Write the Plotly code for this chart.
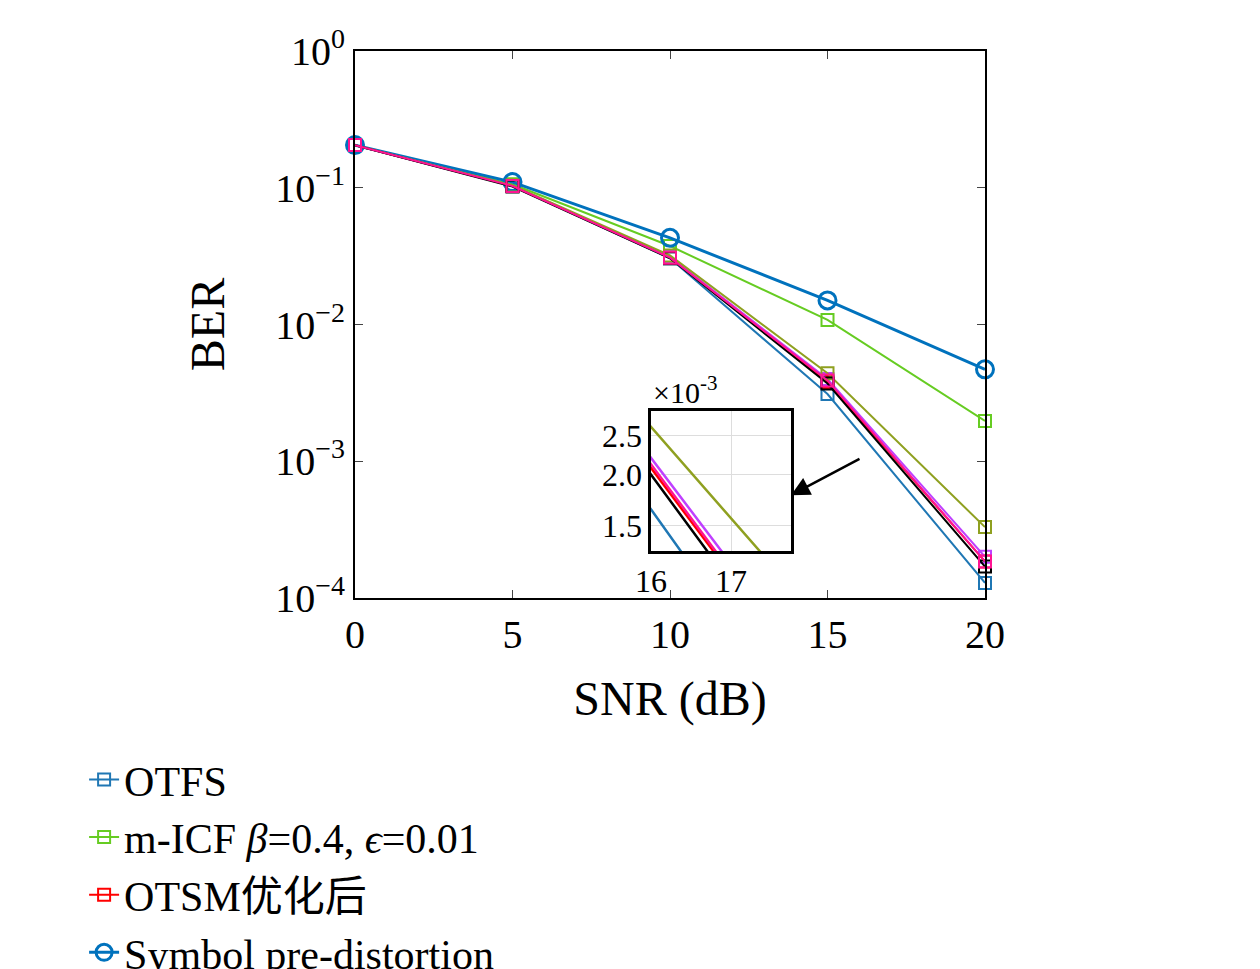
import plotly.graph_objects as go

snr = [0, 5, 10, 15, 20]
names = ["OTFS", "m-ICF <i>β</i>=0.4, <i>ϵ</i>=0.01", "OTSM优化后", "Symbol pre-distortion",
         "DCT-based OTFS优化后", "本文", "OTFS优化后", "SLM"]
colors = ["#1f77b4", "#66cc22", "#ff0000", "#0072bd", "#bf40ff", "#8fa020", "#000000", "#ff1493"]
ber = [
    [0.205, 0.103, 0.0305, 0.0031, 1.29e-4],
    [0.205, 0.106, 0.0375, 0.0108, 0.00197],
    [0.205, 0.103, 0.0310, 0.0038, 1.85e-4],
    [0.205, 0.110, 0.0430, 0.0150, 0.0047],
    [0.205, 0.103, 0.0312, 0.0040, 2.0e-4],
    [0.205, 0.104, 0.0320, 0.0044, 3.3e-4],
    [0.205, 0.102, 0.0305, 0.0037, 1.7e-4],
    [0.205, 0.103, 0.0308, 0.0039, 1.85e-4],
]
ytick_vals = [1, 0.1, 0.01, 0.001, 0.0001]
ytick_text = ["10<sup>0</sup>", "10<sup>−1</sup>", "10<sup>−2</sup>", "10<sup>−3</sup>", "10<sup>−4</sup>"]
inset_vals = [1.5e-3, 2.0e-3, 2.5e-3]
inset_text = ["1.5", "2.0", "2.5"]

F = "Liberation Serif, Noto Sans CJK SC"
fig = go.Figure()
for i, n in enumerate(names):
    circ = n.startswith("Symbol")
    fig.add_trace(go.Scatter(
        x=snr, y=ber[i], name=n, mode="lines+markers", cliponaxis=False,
        line=dict(color=colors[i], width=3 if circ else 2),
        marker=dict(symbol="circle-open" if circ else "square-open",
                    size=17 if circ else 12, color=colors[i],
                    line=dict(width=3 if circ else 2, color=colors[i]))))
for i, n in enumerate(names):
    fig.add_trace(go.Scatter(
        x=snr, y=ber[i], mode="lines", showlegend=False, xaxis="x2", yaxis="y2",
        line=dict(color=colors[i], width=2.5)))

fig.update_layout(
    width=1260, height=969, paper_bgcolor="white", plot_bgcolor="white",
    margin=dict(l=347, r=283, t=43, b=379, autoexpand=False),
    font=dict(family=F, size=40, color="black"),
    xaxis=dict(range=[0, 20], tickvals=snr, ticks="inside", ticklen=8, mirror="ticks",
               showline=True, linecolor="black", linewidth=2, showgrid=False, zeroline=False,
               title=dict(text="SNR (dB)", standoff=25)),
    yaxis=dict(type="log", range=[-4, 0], tickvals=ytick_vals, ticktext=ytick_text,
               ticks="inside", ticklen=8, mirror="ticks", showline=True, linecolor="black",
               linewidth=2, showgrid=False, zeroline=False,
               title=dict(text="BER", standoff=35)),
    xaxis2=dict(domain=[0.470, 0.692], anchor="y2", range=[16, 17.75], tickvals=[16, 17],
                showline=True, mirror=True, linecolor="black", linewidth=2.5,
                showgrid=True, gridcolor="#dddddd", zeroline=False, ticks="",
                tickfont=dict(size=32)),
    yaxis2=dict(domain=[0.086, 0.342], anchor="x2", type="log", range=[0.113 - 3, 0.458 - 3],
                tickvals=inset_vals, ticktext=inset_text, showline=True, mirror=True,
                linecolor="black", linewidth=2.5, showgrid=True, gridcolor="#dddddd",
                zeroline=False, ticks="", tickfont=dict(size=32)),
    legend=dict(orientation="h", x=-0.43, y=-0.27, xanchor="left", yanchor="top",
                entrywidth=520, entrywidthmode="pixels", font=dict(size=42),
                bgcolor="rgba(0,0,0,0)", tracegroupgap=0),
    showlegend=True,
)
fig.add_shape(type="rect", xref="x", yref="y", x0=16.06, x1=17.37,
              y0=-3.232, y1=-2.486, line=dict(color="black", width=2.5))
fig.add_annotation(xref="paper", yref="paper", x=0.692, y=0.188, ax=853 - 347 - 0.692 * 630,
                   ay=-37, text="", showarrow=True, arrowhead=2, arrowsize=1.5,
                   arrowwidth=2.5, arrowcolor="black")
fig.add_annotation(xref="paper", yref="paper", x=0.47, y=0.342, yanchor="bottom", xanchor="left",
                   text="×10<sup>-3</sup>", showarrow=False, font=dict(size=30))
fig.write_html("out.html")
